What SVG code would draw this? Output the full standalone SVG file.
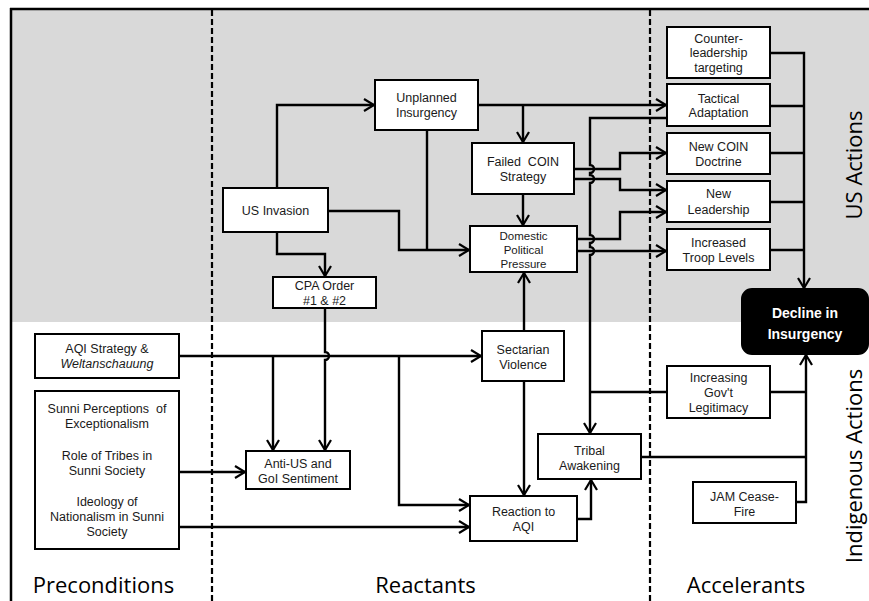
<svg xmlns="http://www.w3.org/2000/svg" width="869" height="601" viewBox="0 0 869 601">
<defs>
<marker id="arr" markerUnits="userSpaceOnUse" markerWidth="14" markerHeight="14" viewBox="0 0 14 14" refX="12" refY="7" orient="auto">
<path d="M2,1 L12,7 L2,13" fill="none" stroke="#000" stroke-width="2.2"/>
</marker>
<style>
.box{fill:#fff;stroke:#000;stroke-width:2}
.t{font-family:"Liberation Sans",Arial,sans-serif;font-size:12.5px;fill:#1a1a1a;text-anchor:middle}
.ts{font-size:11.5px}
.c{fill:none;stroke:#000;stroke-width:2.4}
.a{marker-end:url(#arr)}
.sec{font-family:"Open Sans",sans-serif;font-size:22px;fill:#000;text-anchor:middle}
.dash{stroke:#000;stroke-width:2.2;stroke-dasharray:6 3}
</style>
</defs>
<rect x="11" y="9" width="858" height="313" fill="#d9d9d9"/>
<line x1="10" y1="9" x2="869" y2="9" stroke="#000" stroke-width="2.5"/>
<line x1="11" y1="8" x2="11" y2="601" stroke="#000" stroke-width="2.5"/>
<line class="dash" x1="212" y1="10" x2="212" y2="601"/>
<line class="dash" x1="650" y1="10" x2="650" y2="601"/>

<g id="connectors">
<path class="c a" d="M277,188 V105 H374"/>
<path class="c a" d="M277,232 V254 H325 V276"/>
<path class="c a" d="M328,211 H399 V250 H469"/>
<path class="c" d="M427,130 V250"/>
<path class="c a" d="M478,105 H666"/>
<path class="c a" d="M523,105 V142"/>
<path class="c a" d="M523,194 V225"/>
<path class="c a" d="M574,169 H620 V153 H666"/>
<path class="c a" d="M574,179 H620 V190 H666"/>
<path class="c a" d="M577,239 H620 V212 H666"/>
<path class="c a" d="M577,251 H666"/>
<path class="c a" d="M667,118 H590 V165 A4,4 0 0 1 590,173 V175 A4,4 0 0 1 590,183 V235 A4,4 0 0 1 590,243 V247 A4,4 0 0 1 590,255 V433"/>
<path class="c" d="M667,392 H590"/>
<path class="c a" d="M524,331 V273"/>
<path class="c a" d="M524,381 V495"/>
<path class="c a" d="M179,356 H481"/>
<path class="c a" d="M273,356 V450"/>
<path class="c a" d="M399,356 V505 H469"/>
<path class="c a" d="M325,308 V352 A4,4 0 0 1 325,360 V450"/>
<path class="c a" d="M179,472 H245"/>
<path class="c a" d="M179,527 H469"/>
<path class="c a" d="M577,519 H591 V480"/>
<path class="c" d="M641,457 H806"/>
<path class="c" d="M770,392 H806"/>
<path class="c a" d="M796,502 H806 V355"/>
<path class="c a" d="M770,53 H804 V288"/>
<path class="c" d="M770,106 H804 M770,153 H804 M770,202 H804 M770,250 H804"/>
</g>

<g id="us-invasion"><rect class="box" x="223" y="188" width="105" height="44"/><text class="t" x="275.5" y="215">US Invasion</text></g>
<g id="unplanned-insurgency"><rect class="box" x="375" y="80" width="103" height="50"/><text class="t" x="426.5" y="102">Unplanned</text><text class="t" x="426.5" y="117">Insurgency</text></g>
<g id="cpa-order"><rect class="box" x="273" y="277" width="103" height="31"/><text class="t" x="324.5" y="290">CPA Order</text><text class="t" x="324.5" y="305">#1 &amp; #2</text></g>
<g id="failed-coin"><rect class="box" x="472" y="143" width="102" height="51"/><text class="t" x="523" y="166" xml:space="preserve">Failed  COIN</text><text class="t" x="523" y="181">Strategy</text></g>
<g id="domestic-pressure"><rect class="box" x="470" y="226" width="107" height="46"/><text class="t ts" x="523.5" y="240">Domestic</text><text class="t ts" x="523.5" y="254">Political</text><text class="t ts" x="523.5" y="267.5">Pressure</text></g>
<g id="counter-leadership"><rect class="box" x="667" y="27" width="103" height="51"/><text class="t" x="718.5" y="42.5">Counter-</text><text class="t" x="718.5" y="57">leadership</text><text class="t" x="718.5" y="71.5">targeting</text></g>
<g id="tactical-adaptation"><rect class="box" x="667" y="84" width="103" height="42"/><text class="t" x="718.5" y="102.5">Tactical</text><text class="t" x="718.5" y="117">Adaptation</text></g>
<g id="new-coin-doctrine"><rect class="box" x="667" y="133" width="103" height="41"/><text class="t" x="718.5" y="150.5">New COIN</text><text class="t" x="718.5" y="166">Doctrine</text></g>
<g id="new-leadership"><rect class="box" x="667" y="181" width="103" height="41"/><text class="t" x="718.5" y="198">New</text><text class="t" x="718.5" y="213.5">Leadership</text></g>
<g id="troop-levels"><rect class="box" x="667" y="229" width="103" height="41"/><text class="t" x="718.5" y="246.5">Increased</text><text class="t" x="718.5" y="261.5">Troop Levels</text></g>
<g id="decline"><rect x="742" y="289" width="126" height="65" rx="10" fill="#000" stroke="#000" stroke-width="2"/><text class="t" x="805" y="318" style="font-weight:bold;font-size:14px;fill:#fff">Decline in</text><text class="t" x="805" y="339" style="font-weight:bold;font-size:14px;fill:#fff">Insurgency</text></g>
<g id="govt-legitimacy"><rect class="box" x="667" y="366" width="103" height="52"/><text class="t" x="718.5" y="381.5">Increasing</text><text class="t" x="718.5" y="396.5">Gov't</text><text class="t" x="718.5" y="411.5">Legitimacy</text></g>
<g id="tribal-awakening"><rect class="box" x="538" y="434" width="103" height="45"/><text class="t" x="589.5" y="455">Tribal</text><text class="t" x="589.5" y="470">Awakening</text></g>
<g id="jam-ceasefire"><rect class="box" x="693" y="482" width="103" height="41"/><text class="t" x="744.5" y="501">JAM Cease-</text><text class="t" x="744.5" y="516">Fire</text></g>
<g id="sectarian-violence"><rect class="box" x="482" y="331" width="82" height="50"/><text class="t" x="523" y="354">Sectarian</text><text class="t" x="523" y="369">Violence</text></g>
<g id="reaction-aqi"><rect class="box" x="470" y="496" width="107" height="45"/><text class="t" x="523.5" y="515.5">Reaction to</text><text class="t" x="523.5" y="530.5">AQI</text></g>
<g id="anti-us"><rect class="box" x="246" y="451" width="104" height="38"/><text class="t" x="298" y="467.5">Anti-US and</text><text class="t" x="298" y="483">GoI Sentiment</text></g>
<g id="aqi-strategy"><rect class="box" x="35" y="334" width="144" height="44"/><text class="t" x="107" y="353">AQI Strategy &amp;</text><text class="t" x="107" y="368" font-style="italic">Weltanschauung</text></g>
<g id="sunni"><rect class="box" x="35" y="391" width="144" height="158"/>
<text class="t" x="107" y="413" xml:space="preserve">Sunni Perceptions  of</text><text class="t" x="107" y="428">Exceptionalism</text>
<text class="t" x="107" y="460">Role of Tribes in</text><text class="t" x="107" y="475">Sunni Society</text>
<text class="t" x="107" y="506">Ideology of</text><text class="t" x="107" y="521">Nationalism in Sunni</text><text class="t" x="107" y="536">Society</text></g>

<text class="sec" x="103.5" y="593">Preconditions</text>
<text class="sec" x="425.5" y="593">Reactants</text>
<text class="sec" x="746" y="593">Accelerants</text>
<text class="sec" transform="translate(862,165) rotate(-90)">US Actions</text>
<text class="sec" transform="translate(862,466) rotate(-90)">Indigenous Actions</text>
</svg>
